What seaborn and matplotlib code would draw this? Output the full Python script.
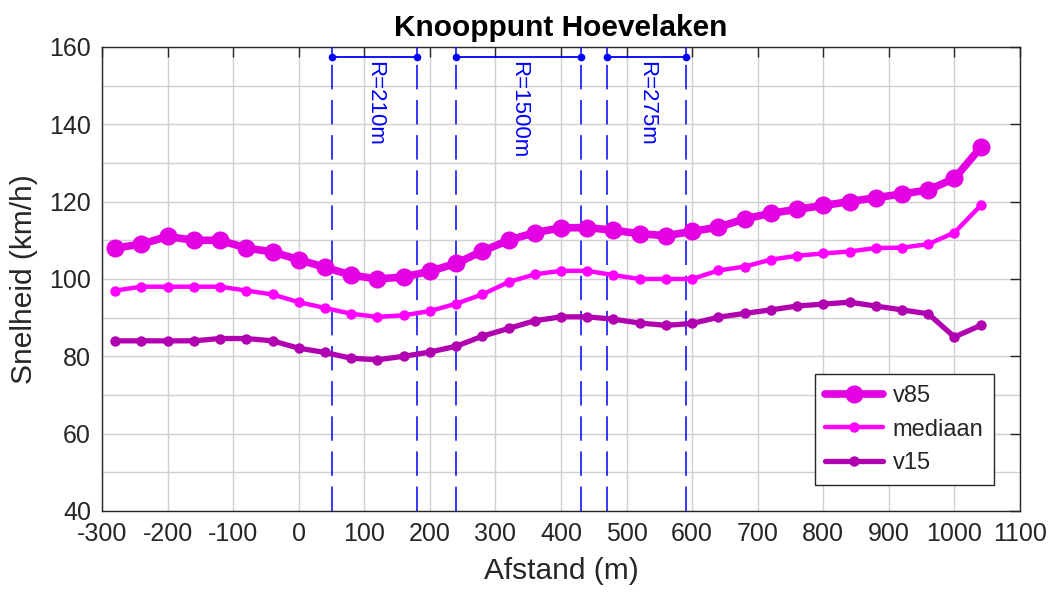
import matplotlib
matplotlib.use("Agg")
import matplotlib.pyplot as plt
import seaborn as sns
import pandas as pd
from matplotlib.ticker import MultipleLocator

afstand = [-280, -240, -200, -160, -120, -80, -40, 0, 40, 80, 120, 160, 200, 240,
           280, 320, 360, 400, 440, 480, 520, 560, 600, 640, 680, 720, 760, 800,
           840, 880, 920, 960, 1000, 1040]
v85 = [108, 109, 111, 110, 110, 108, 107, 105, 103, 101, 100, 100.5, 102, 104,
       107.2, 110, 112, 113.2, 113.3, 112.6, 111.7, 111.2, 112.3, 113.4, 115.5, 117, 118, 119,
       120, 121, 122, 123, 126, 134]
mediaan = [97, 98, 98, 98, 98, 97, 96, 94, 92.5, 91, 90.2, 90.6, 91.7, 93.6,
           96, 99.2, 101.2, 102.1, 102.1, 101, 100, 100, 100, 102.2, 103.2, 105, 106, 106.6,
           107.1, 108, 108.1, 109, 112, 119]
v15 = [84, 84, 84, 84, 84.6, 84.6, 84, 82.1, 81, 79.5, 79.1, 80, 81.1, 82.6,
       85.2, 87.2, 89.2, 90.2, 90.2, 89.6, 88.6, 88, 88.5, 90.1, 91.1, 92, 93, 93.5,
       94, 93, 92, 91, 85, 88]

bocht_start = [50, 240, 470]
bocht_eind = [180, 430, 590]
bocht_label = ["R=210m", "R=1500m", "R=275m"]
bocht_y = 157.4

sns.set_style("white")
plt.rcParams['font.family'] = ['Liberation Sans', 'DejaVu Sans']
plt.rcParams['axes.unicode_minus'] = False

df = pd.DataFrame({"afstand": afstand, "v85": v85, "mediaan": mediaan, "v15": v15})

fig = plt.figure(figsize=(10.52, 5.98), dpi=100)
ax = fig.add_axes([0.097, 0.1455, 0.8726, 0.776])

c85, cmed, c15 = "#E300E3", "#FF00FF", "#B000B0"
sns.lineplot(data=df, x="afstand", y="v85", ax=ax, color=c85, linewidth=5.5,
             marker="o", markersize=13, markeredgewidth=0, label="v85", zorder=5)
sns.lineplot(data=df, x="afstand", y="mediaan", ax=ax, color=cmed, linewidth=3.2,
             marker="o", markersize=7.5, markeredgewidth=0, label="mediaan", zorder=5)
sns.lineplot(data=df, x="afstand", y="v15", ax=ax, color=c15, linewidth=3.8,
             marker="o", markersize=7.5, markeredgewidth=0, label="v15", zorder=5)

for s, e, lab in zip(bocht_start, bocht_eind, bocht_label):
    for xv in (s, e):
        ax.axvline(xv, color="#0000FF", linewidth=1.1, dashes=(16, 7), zorder=3)
    ax.plot([s, e], [bocht_y, bocht_y], color="#0000FF", linewidth=1.3,
            marker="o", markersize=4.5, zorder=6)
    ax.text((s + e) / 2, bocht_y - 1.0, lab, rotation=270, ha="center", va="top",
            color="#0000FF", fontsize=16, zorder=6)

ax.set_xlim(-300, 1100)
ax.set_ylim(40, 160)
ax.xaxis.set_major_locator(MultipleLocator(100))
ax.yaxis.set_major_locator(MultipleLocator(20))
ax.yaxis.set_minor_locator(MultipleLocator(10))
ax.grid(True, which="major", color="#D0D0D0", linewidth=1.0, zorder=0)
ax.grid(True, which="minor", axis="y", color="#D0D0D0", linewidth=1.0, zorder=0)
ax.set_axisbelow(True)

ax.tick_params(axis="both", which="major", direction="in", length=7, width=1.0,
               top=True, right=True, labelsize=18, colors="#262626", pad=8)
ax.tick_params(axis="both", which="minor", length=0)
for sp in ax.spines.values():
    sp.set_color("#262626")
    sp.set_linewidth(1.0)

ax.set_xlabel("Afstand (m)", fontsize=21.5, color="#262626", labelpad=8)
ax.set_ylabel("Snelheid (km/h)", fontsize=21.5, color="#262626", labelpad=8)
ax.set_title("Knooppunt Hoevelaken", fontsize=21.5, fontweight="bold",
             color="black", pad=8)

leg = ax.legend(loc="lower right", fontsize=17, frameon=True, fancybox=False,
                framealpha=1, edgecolor="#262626", handlelength=2.45,
                borderaxespad=1.1, labelspacing=0.5, handletextpad=0.4,
                borderpad=0.45)
leg.get_frame().set_linewidth(1.0)

fig.savefig("out.png", dpi=100)
